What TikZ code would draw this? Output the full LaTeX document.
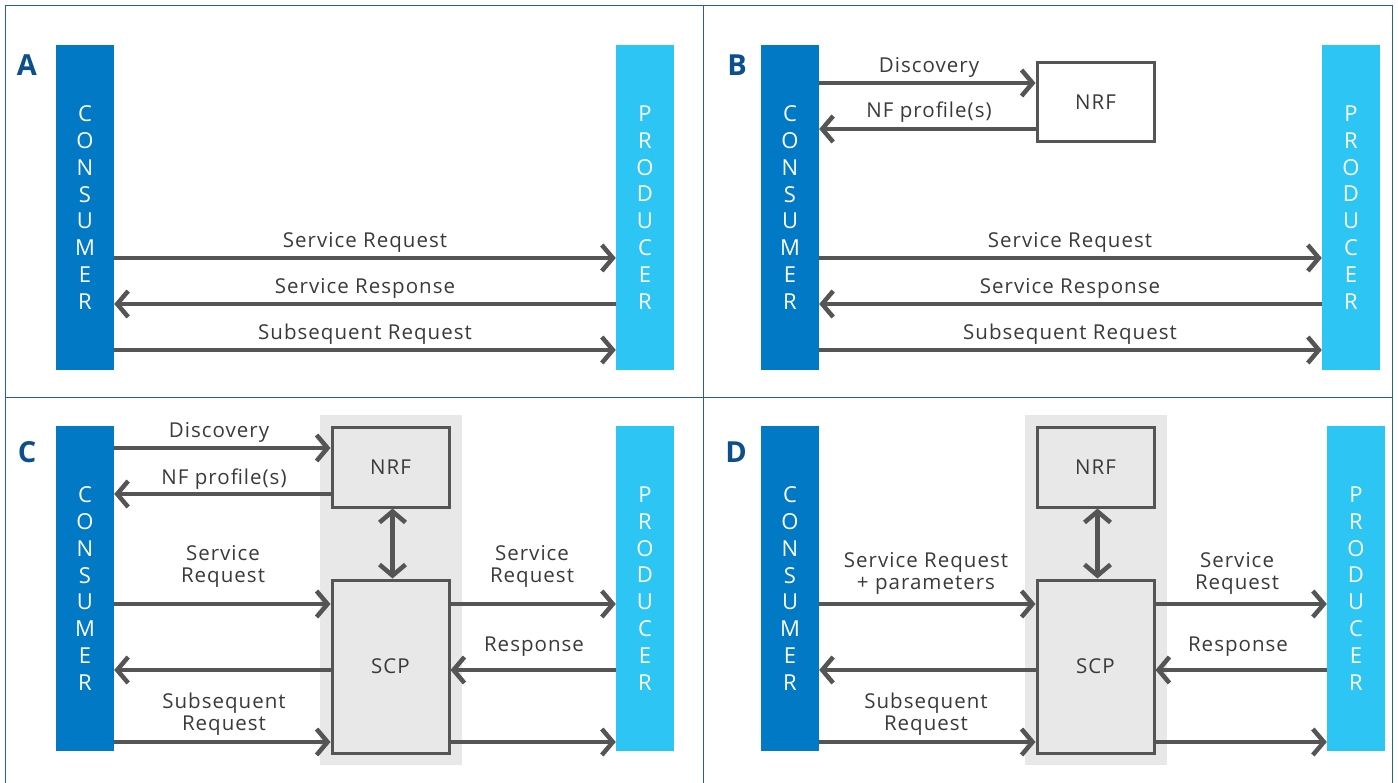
\documentclass[tikz,border=0pt]{standalone}
\usepackage{fontspec}
\setmainfont{Open Sans}
\newfontfamily\lblfont[LetterSpace=5]{Open Sans}
\usetikzlibrary{arrows.meta}
\definecolor{cons}{HTML}{0179C4}
\definecolor{prod}{HTML}{2DC5F4}
\definecolor{arrowgray}{HTML}{555555}
\definecolor{txt}{HTML}{3A3A3A}
\definecolor{frameblue}{HTML}{2A5E97}
\definecolor{panelbg}{HTML}{E8E8E8}
\definecolor{letterblue}{HTML}{0B4F8C}
\begin{document}
\begin{tikzpicture}[x=1pt,y=-1pt,
  bar/.style={rectangle, minimum width=58pt, minimum height=325pt, inner sep=0pt,
    text=white, align=center, font=\fontsize{22}{26.8}\selectfont},
  consbar/.style={bar, fill=cons},
  prodbar/.style={bar, fill=prod},
  fnbox/.style={rectangle, draw=arrowgray, line width=3pt, minimum width=117pt,
    inner sep=0pt, text=txt, font=\lblfont\fontsize{20.5}{22}\selectfont},
  nrfbox/.style={fnbox, minimum height=79pt},
  scpbox/.style={fnbox, minimum height=173pt, fill=panelbg},
  grayzone/.style={rectangle, fill=panelbg, minimum width=142pt, minimum height=350pt, inner sep=0pt},
  lbl/.style={text=txt, align=center, inner sep=0pt, font=\lblfont\fontsize{20.5}{21.5}\selectfont},
  panelletter/.style={text=letterblue, font=\fontsize{29}{29}\selectfont\bfseries, inner sep=0pt},
  arr/.style={draw=arrowgray, line width=4.5pt,
    -{Straight Barb[length=11pt, width=26pt, line cap=butt, line join=miter]}},
  dblarr/.style={draw=arrowgray, line width=4.5pt,
    {Straight Barb[length=11pt, width=26pt, line cap=butt, line join=miter]}-{Straight Barb[length=11pt, width=26pt, line cap=butt, line join=miter]}},
  frameline/.style={draw=frameblue, line width=1.6pt}
]
\useasboundingbox (0,0) rectangle (1398,783);

% frame
\draw[frameline] (5.5,783) -- (5.5,5.5) -- (1392.5,5.5) -- (1392.5,783);
\draw[frameline] (703.5,5.5) -- (703.5,783);
\draw[frameline] (5.5,397.5) -- (1392.5,397.5);

% panel letters
\node[panelletter, anchor=base] (letA) at (27,76) {A};
\node[panelletter, anchor=base] (letB) at (737,76) {B};
\node[panelletter, anchor=base] (letC) at (27,463) {C};
\node[panelletter, anchor=base] (letD) at (736,463) {D};

% ---------------- Panel A ----------------
\node[consbar] (consA) at (85,207.5) {C\\O\\N\\S\\U\\M\\E\\R};
\node[prodbar] (prodA) at (645,207.5) {P\\R\\O\\D\\U\\C\\E\\R};
\draw[arr] (consA.east |- 0,258) -- (prodA.west |- 0,258);
\draw[arr] (prodA.west |- 0,304) -- (consA.east |- 0,304);
\draw[arr] (consA.east |- 0,350) -- (prodA.west |- 0,350);
\node[lbl, anchor=base] (lA1) at (365,248) {Service Request};
\node[lbl, anchor=base] (lA2) at (365,294) {Service Response};
\node[lbl, anchor=base] (lA3) at (365,340) {Subsequent Request};

% ---------------- Panel B ----------------
\node[consbar] (consB) at (790,207.5) {C\\O\\N\\S\\U\\M\\E\\R};
\node[prodbar] (prodB) at (1351,207.5) {P\\R\\O\\D\\U\\C\\E\\R};
\node[nrfbox, fill=white] (nrfB) at (1095.5,102.5) {NRF};
\draw[arr] (consB.east |- 0,83) -- (nrfB.west |- 0,83);
\draw[arr] (nrfB.west |- 0,129) -- (consB.east |- 0,129);
\node[lbl, anchor=base] (lB0) at (929,73) {Discovery};
\node[lbl, anchor=base] (lB00) at (929,118) {NF profile(s)};
\draw[arr] (consB.east |- 0,258) -- (prodB.west |- 0,258);
\draw[arr] (prodB.west |- 0,304) -- (consB.east |- 0,304);
\draw[arr] (consB.east |- 0,350) -- (prodB.west |- 0,350);
\node[lbl, anchor=base] (lB1) at (1070,248) {Service Request};
\node[lbl, anchor=base] (lB2) at (1070,294) {Service Response};
\node[lbl, anchor=base] (lB3) at (1070,340) {Subsequent Request};

% ---------------- Panel C ----------------
\node[grayzone] (zoneC) at (391,590) {};
\node[consbar] (consC) at (85,588.5) {C\\O\\N\\S\\U\\M\\E\\R};
\node[prodbar] (prodC) at (645,588.5) {P\\R\\O\\D\\U\\C\\E\\R};
\node[nrfbox, fill=panelbg] (nrfC) at (390.5,467.5) {NRF};
\node[scpbox] (scpC) at (390.5,666.5) {SCP};
\draw[dblarr] ([xshift=2pt]nrfC.south) -- ([xshift=2pt]scpC.north);
\draw[arr] (consC.east |- 0,448) -- (nrfC.west |- 0,448);
\draw[arr] (nrfC.west |- 0,494) -- (consC.east |- 0,494);
\node[lbl, anchor=base] (lC0) at (219,438) {Discovery};
\node[lbl, anchor=base] (lC00) at (224,484) {NF profile(s)};
\draw[arr] (consC.east |- 0,604) -- (scpC.west |- 0,604);
\draw[arr] (scpC.west |- 0,670) -- (consC.east |- 0,670);
\draw[arr] (consC.east |- 0,742) -- (scpC.west |- 0,742);
\draw[arr] (scpC.east |- 0,604) -- (prodC.west |- 0,604);
\draw[arr] (prodC.west |- 0,670) -- (scpC.east |- 0,670);
\draw[arr] (scpC.east |- 0,742) -- (prodC.west |- 0,742);
\node[lbl, anchor=base] (lC1) at (223,582) {Service\\Request};
\node[lbl, anchor=base] (lC2) at (224,730) {Subsequent\\Request};
\node[lbl, anchor=base] (lC3) at (532,582) {Service\\Request};
\node[lbl, anchor=base] (lC4) at (534,651) {Response};

% ---------------- Panel D ----------------
\node[grayzone] (zoneD) at (1096,590) {};
\node[consbar] (consD) at (790,588.5) {C\\O\\N\\S\\U\\M\\E\\R};
\node[prodbar] (prodD) at (1356,588.5) {P\\R\\O\\D\\U\\C\\E\\R};
\node[nrfbox, fill=panelbg] (nrfD) at (1095.5,467.5) {NRF};
\node[scpbox] (scpD) at (1095.5,666.5) {SCP};
\draw[dblarr] ([xshift=2pt]nrfD.south) -- ([xshift=2pt]scpD.north);
\draw[arr] (consD.east |- 0,604) -- (scpD.west |- 0,604);
\draw[arr] (scpD.west |- 0,670) -- (consD.east |- 0,670);
\draw[arr] (consD.east |- 0,742) -- (scpD.west |- 0,742);
\draw[arr] (scpD.east |- 0,604) -- (prodD.west |- 0,604);
\draw[arr] (prodD.west |- 0,670) -- (scpD.east |- 0,670);
\draw[arr] (scpD.east |- 0,742) -- (prodD.west |- 0,742);
\node[lbl, anchor=base] (lD1) at (926,589) {Service Request\\+ parameters};
\node[lbl, anchor=base] (lD2) at (926,730) {Subsequent\\Request};
\node[lbl, anchor=base] (lD3) at (1237,589) {Service\\Request};
\node[lbl, anchor=base] (lD4) at (1238,651) {Response};
\end{tikzpicture}
\end{document}
